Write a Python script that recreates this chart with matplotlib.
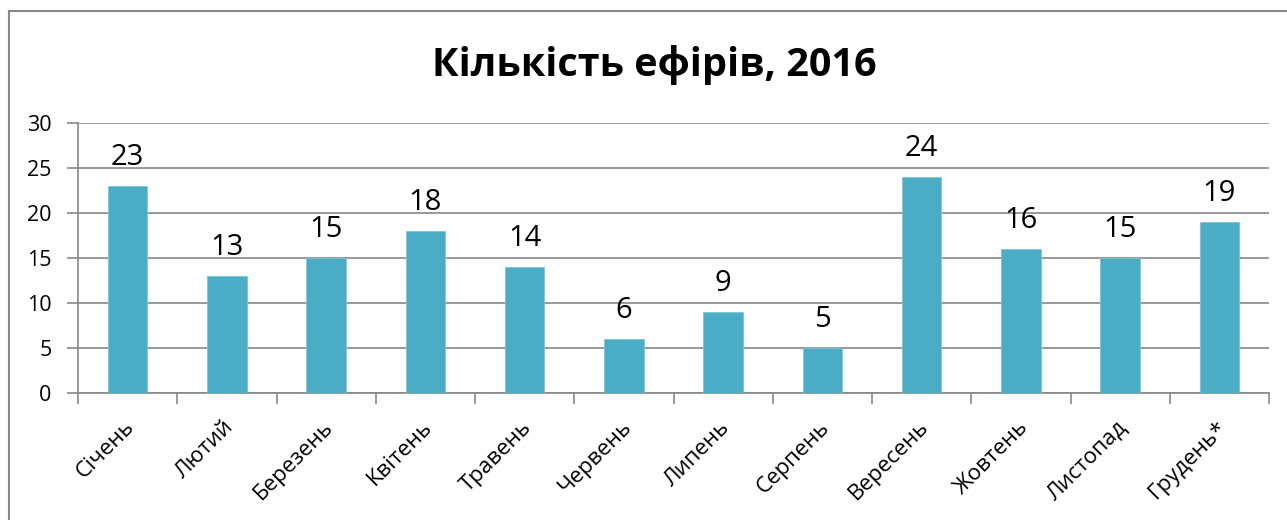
import matplotlib
matplotlib.use("Agg")
import matplotlib.pyplot as plt
from matplotlib.patches import Rectangle
import numpy as np

plt.rcParams['font.family'] = ['Open Sans', 'DejaVu Sans']

months = ['Січень', 'Лютий', 'Березень', 'Квітень', 'Травень', 'Червень',
          'Липень', 'Серпень', 'Вересень', 'Жовтень', 'Листопад', 'Грудень*']
values = [23, 13, 15, 18, 14, 6, 9, 5, 24, 16, 15, 19]
title = 'Кількість ефірів, 2016'
yticks = [0, 5, 10, 15, 20, 25, 30]

W, H = 1287, 520
fig = plt.figure(figsize=(W / 100, H / 100), dpi=100)
ax = fig.add_axes([78 / W, 127 / H, (1269 - 78) / W, 270 / H])

grid_c = '#878787'
x = np.arange(len(months))
bars = ax.bar(x, values, width=0.40, color='#4BACC6', edgecolor='#7CC4D6', linewidth=0.6, zorder=3)

ax.set_xlim(-0.5, len(months) - 0.5)
ax.set_ylim(0, 30)
ax.set_yticks(yticks)
ax.yaxis.grid(True, color=grid_c, linewidth=1.2, zorder=0)
ax.tick_params(axis='y', length=8, width=1.2, color=grid_c, labelsize=15.5, pad=11, labelcolor='black')

ax.set_xticks(x)
ax.set_xticklabels([])
ax.tick_params(axis='x', which='major', length=0)
ax.set_xticks(np.arange(-0.5, len(months), 1.0), minor=True)
ax.tick_params(axis='x', which='minor', length=8, width=1.2, color=grid_c)

for s in ['top', 'right']:
    ax.spines[s].set_visible(False)
for s in ['left', 'bottom']:
    ax.spines[s].set_color(grid_c)
    ax.spines[s].set_linewidth(1.2)

for xi, lab in zip(x, months):
    ax.annotate(lab, xy=(xi, 0), xycoords='data', xytext=(4, -31), textcoords='offset pixels',
                rotation=45, ha='right', va='center', rotation_mode='anchor', fontsize=16)

for xi, v in zip(x, values):
    ax.annotate(str(v), xy=(xi, v), xytext=(0, 14), textcoords='offset pixels',
                ha='center', va='bottom', fontsize=21)

fig.text(654 / W, 1 - 65 / H, title, ha='center', va='center', fontsize=28.5, fontweight='bold')

fig.patches.append(Rectangle((9 / W, -0.1), 1.2, 1.1 - 11 / H + 0.0, transform=fig.transFigure,
                             fill=False, edgecolor='#898989', linewidth=1.5, figure=fig))

fig.savefig('out.png', dpi=100)
